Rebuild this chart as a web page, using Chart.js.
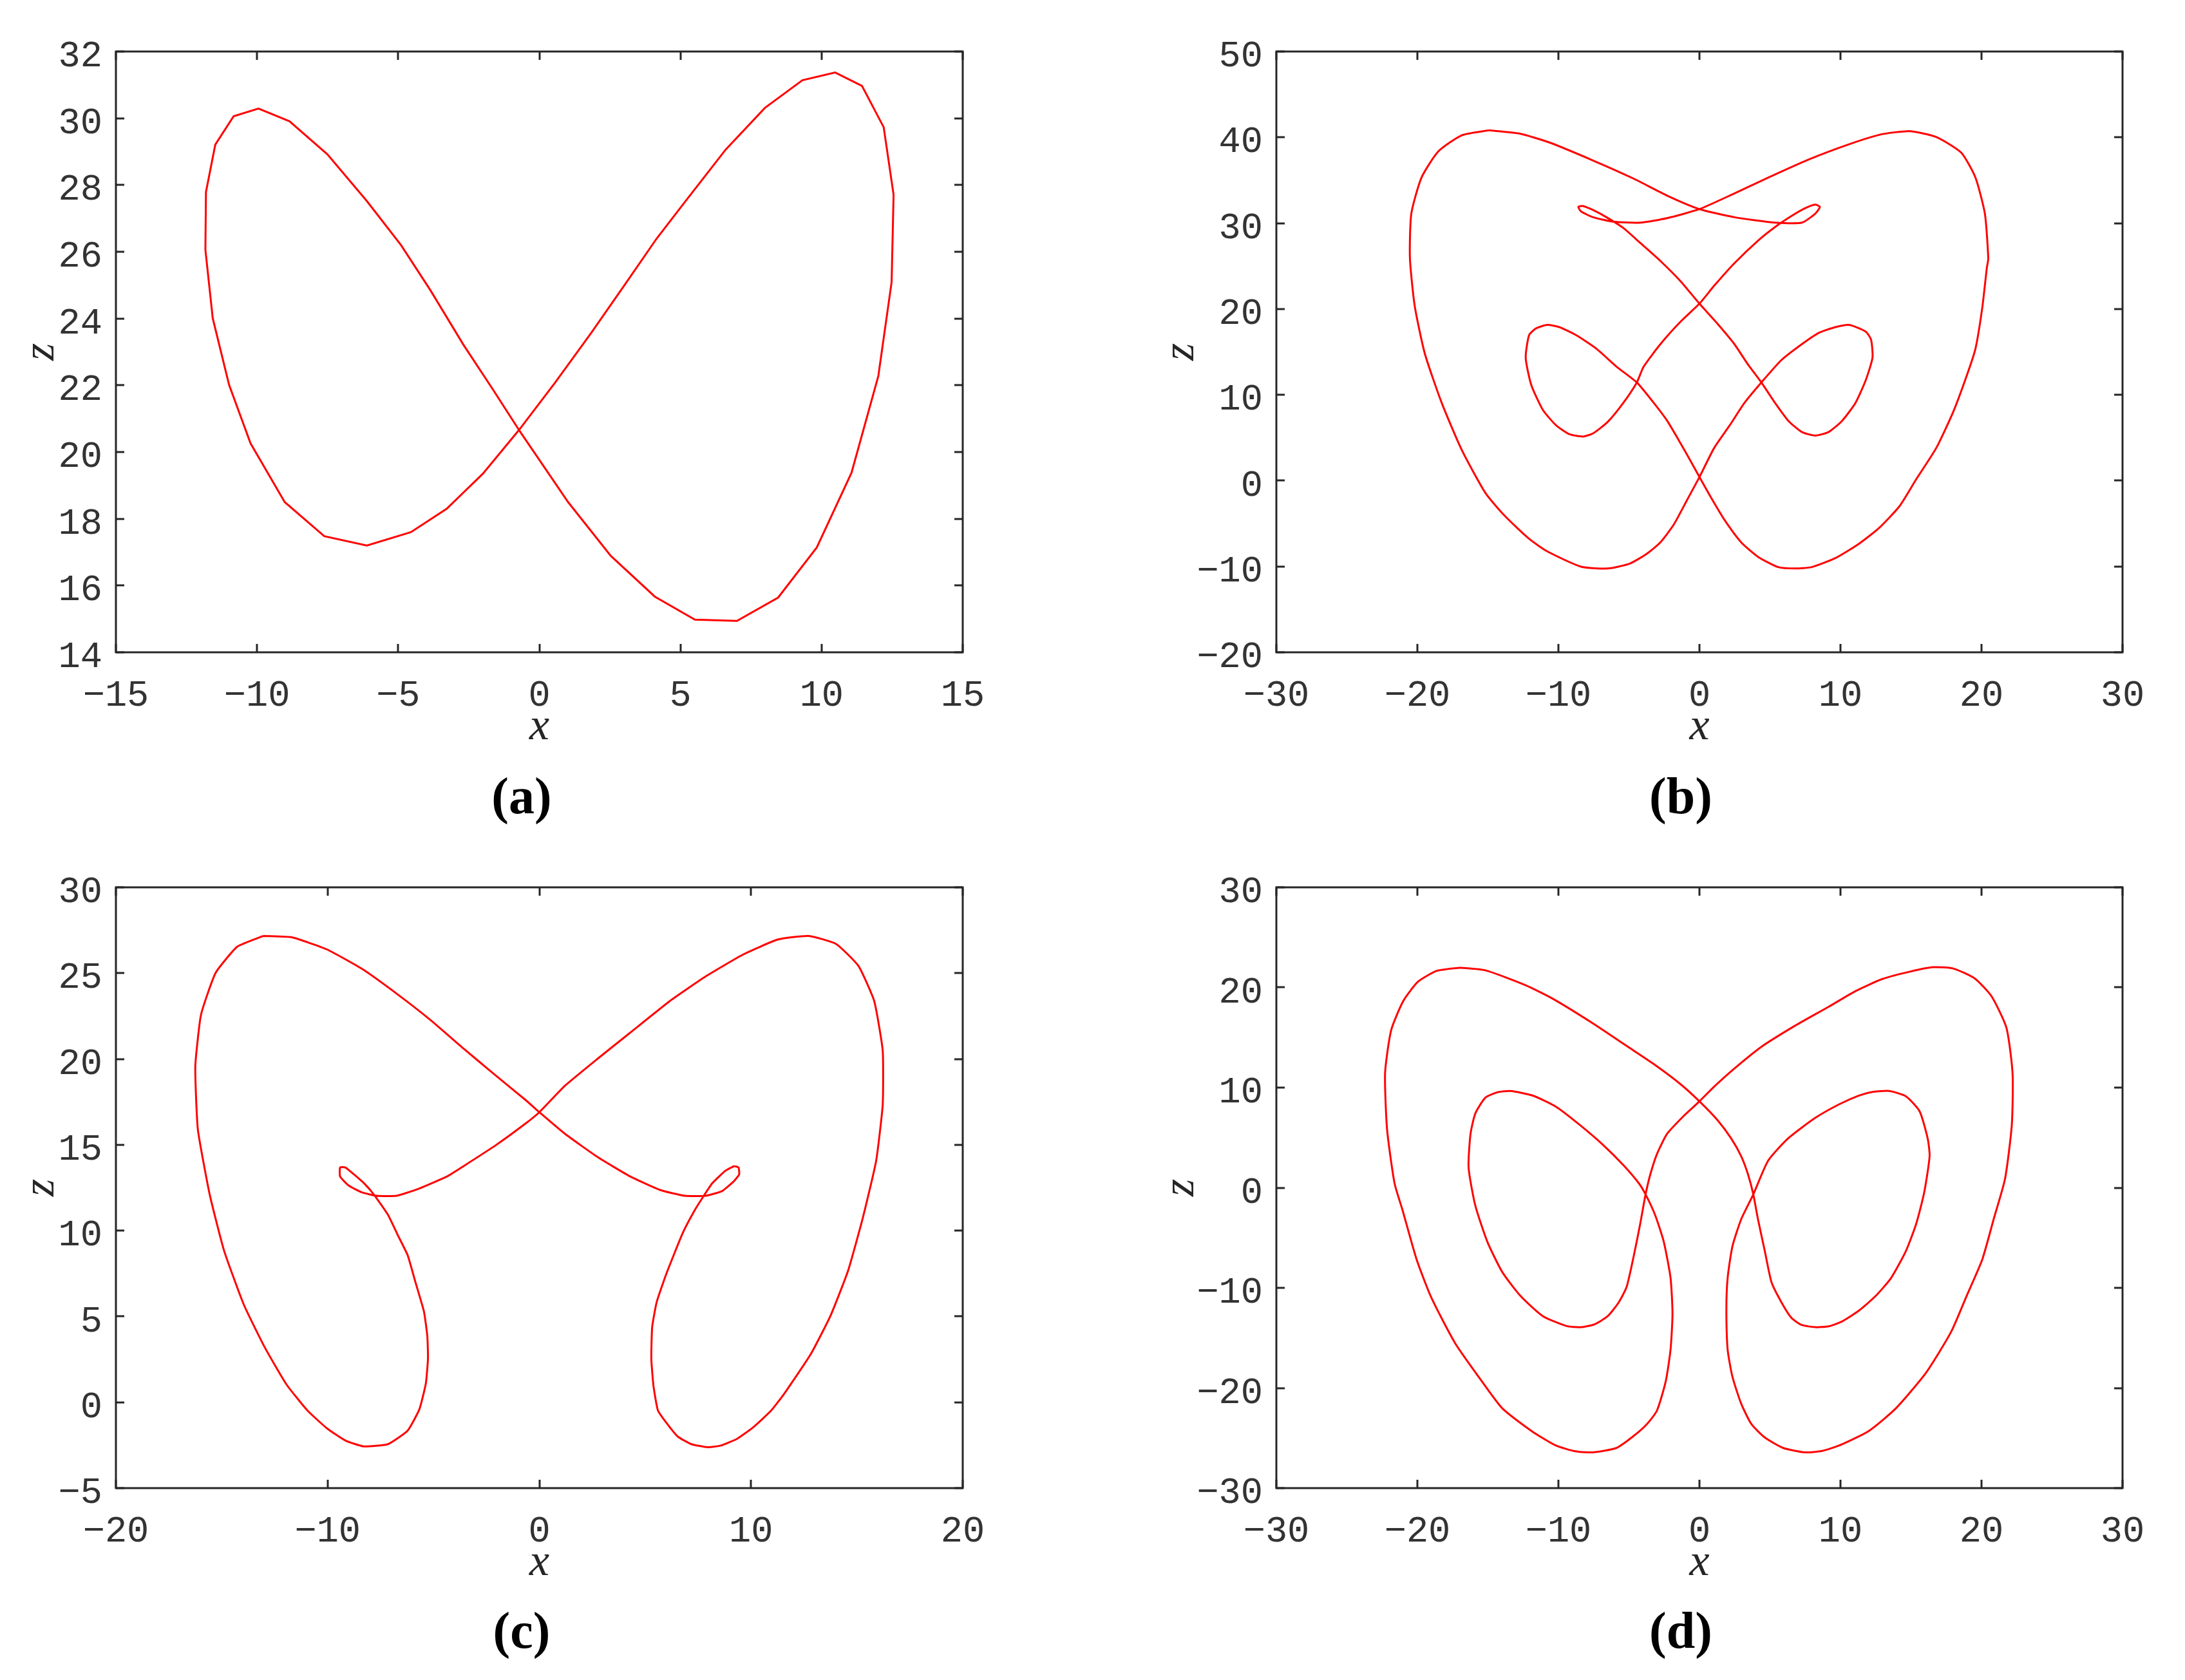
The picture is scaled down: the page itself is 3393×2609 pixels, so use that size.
<!DOCTYPE html>
<html lang="en">
<head>
<meta charset="UTF-8">
<title>x-z projections</title>
<script src="https://cdn.jsdelivr.net/npm/chart.js"></script>
<style>
    body { margin: 0; background: #fff; width: 3393px; height: 2609px; position: relative; overflow: hidden; }
    .panel { position: absolute; }
    .tag { position: absolute; font: bold 80px "Liberation Serif", serif; line-height: 80px; color: #000; transform: translateX(-50%); }
</style>
</head>
<body>

<div class="panel" style="left:0;top:0;width:1600px;height:1172px"><canvas id="chartA"></canvas></div>
<div class="panel" style="left:1696px;top:0;width:1697px;height:1172px"><canvas id="chartB"></canvas></div>
<div class="panel" style="left:0;top:1300px;width:1600px;height:1170px"><canvas id="chartC"></canvas></div>
<div class="panel" style="left:1696px;top:1300px;width:1697px;height:1170px"><canvas id="chartD"></canvas></div>

<div class="tag" style="left:810px;top:1196px">(a)</div>
<div class="tag" style="left:2610px;top:1196px">(b)</div>
<div class="tag" style="left:810px;top:2492px">(c)</div>
<div class="tag" style="left:2610px;top:2492px">(d)</div>

<script>
// axis ranges: [min, max, step]
const xRangeA = [-15, 15, 5];
const zRangeA = [14, 32, 2];
const xRangeB = [-30, 30, 10];
const zRangeB = [-20, 50, 10];
const xRangeC = [-20, 20, 10];
const zRangeC = [-5, 30, 5];
const xRangeD = [-30, 30, 10];
const zRangeD = [-30, 30, 10];

// trajectories, [x, z]
const curveA = [
    [-0.72, 20.66], [-1.65, 21.88], [-2.70, 23.23], [-3.86, 24.85], [-4.90, 26.20], [-6.11, 27.52],
    [-7.51, 28.92], [-8.85, 29.91], [-9.95, 30.29], [-10.83, 30.06], [-11.48, 29.21], [-11.81, 27.79],
    [-11.83, 26.06], [-11.57, 24.01], [-10.99, 22.01], [-10.23, 20.26], [-9.02, 18.50], [-7.62, 17.48],
    [-6.11, 17.20], [-4.55, 17.60], [-3.28, 18.30], [-2.00, 19.35], [-0.72, 20.66], [0.56, 22.08],
    [1.84, 23.57], [3.00, 24.98], [4.16, 26.40], [5.21, 27.55], [6.60, 29.06], [7.99, 30.31],
    [9.32, 31.14], [10.48, 31.37], [11.43, 30.97], [12.20, 29.73], [12.55, 27.71], [12.48, 25.09],
    [12.01, 22.28], [11.06, 19.38], [9.83, 17.14], [8.46, 15.64], [7.00, 14.94], [5.51, 14.98],
    [4.09, 15.67], [2.53, 16.89], [1.02, 18.50], [-0.02, 19.79], [-0.72, 20.66]
];

const curveB = [
    [-14.94, 40.82], [-12.79, 40.45], [-10.64, 39.40], [-7.54, 37.30], [-4.68, 35.20], [-2.29, 33.21],
    [0, 31.64], [2.48, 30.69], [5.35, 30.06], [7.26, 30.06], [8.21, 31.11], [8.54, 31.90],
    [8.21, 32.16], [7.49, 31.74], [6.54, 30.85], [5.35, 29.54], [4.15, 27.96], [2.48, 25.34],
    [1.05, 22.72], [0, 20.62], [-1.34, 18.52], [-2.77, 15.90], [-3.96, 13.27], [-4.44, 11.44],
    [-5.39, 9.08], [-6.49, 6.87], [-7.54, 5.51], [-8.26, 5.14], [-9.21, 5.40], [-10.17, 6.45],
    [-11.12, 8.29], [-11.93, 11.18], [-12.32, 14.32], [-12.08, 16.95], [-11.60, 17.73], [-10.79, 18.15],
    [-9.93, 17.89], [-8.74, 16.95], [-7.30, 15.37], [-5.87, 13.27], [-4.44, 11.44], [-3.25, 9.08],
    [-2.29, 6.98], [-1.34, 4.35], [-0.62, 2.26], [0, 0.42], [0.81, -1.94], [1.77, -4.56],
    [2.96, -7.19], [4.15, -8.87], [5.58, -10.07], [6.78, -10.23], [7.97, -10.07], [9.64, -9.02],
    [11.31, -7.35], [12.74, -5.51], [14.18, -2.99], [15.37, 0.16], [16.80, 3.83], [18.00, 8.03],
    [18.95, 12.22], [19.57, 15.37], [20.05, 20.09], [20.38, 24.82], [20.48, 25.87], [20.24, 31.11],
    [19.57, 35.31], [18.57, 38.20], [16.80, 40.03], [14.89, 40.71], [12.89, 40.35], [10.60, 39.19],
    [7.73, 37.41], [4.87, 35.31], [2.48, 33.47], [0, 31.64], [-2.29, 30.59], [-4.20, 30.06],
    [-6.11, 30.17], [-7.54, 30.69], [-8.40, 31.37], [-8.59, 31.90], [-8.26, 32.00], [-7.54, 31.53],
    [-6.59, 30.69], [-5.39, 29.43], [-4.20, 27.70], [-2.77, 25.60], [-1.34, 23.24], [0, 20.62],
    [1.29, 18.26], [2.48, 15.90], [3.44, 13.54], [4.39, 11.44], [5.35, 9.08], [6.30, 6.98],
    [7.26, 5.67], [8.21, 5.25], [9.16, 5.67], [10.12, 6.98], [11.07, 9.08], [11.79, 11.70],
    [12.27, 14.32], [12.17, 16.42], [11.79, 17.37], [10.60, 18.15], [9.64, 17.89], [8.45, 17.21],
    [7.26, 15.90], [5.82, 14.06], [4.39, 11.44], [3.20, 9.08], [2.15, 6.45], [1.05, 3.83],
    [0, 0.42], [-0.86, -2.20], [-1.81, -5.09], [-2.77, -7.19], [-3.72, -8.50], [-4.92, -9.65],
    [-6.49, -10.23], [-8.40, -10.02], [-10.79, -8.24], [-12.08, -6.77], [-13.84, -4.04], [-15.18, -1.42],
    [-16.85, 3.57], [-18.28, 9.08], [-19.48, 14.85], [-20.19, 20.36], [-20.53, 25.97], [-20.43, 31.11],
    [-19.71, 35.31], [-18.52, 38.35], [-16.85, 40.24], [-14.94, 40.82]
];

const curveC = [
    [-13.03, 27.17], [-11.70, 27.09], [-10.03, 26.38], [-8.39, 25.26], [-6.69, 23.76], [-5.14, 22.27],
    [-3.59, 20.62], [-2.20, 19.18], [-0.65, 17.61], [0, 16.90], [1.21, 15.64], [2.76, 14.28],
    [4.30, 13.15], [5.70, 12.37], [6.87, 12.03], [7.86, 12.03], [8.64, 12.31], [9.20, 12.89],
    [9.44, 13.28], [9.41, 13.68], [9.20, 13.75], [8.79, 13.49], [8.17, 12.76], [7.77, 12.03],
    [7.34, 11.19], [6.78, 9.88], [6.01, 7.52], [5.54, 5.82], [5.33, 4.38], [5.29, 2.54],
    [5.39, 0.97], [5.60, -0.47], [6.01, -1.21], [6.53, -1.99], [7.18, -2.44], [7.96, -2.62],
    [8.58, -2.52], [9.35, -2.12], [10.09, -1.47], [10.96, -0.47], [11.58, 0.52], [12.82, 2.80],
    [13.75, 5.03], [14.58, 7.65], [15.29, 10.79], [15.91, 14.07], [16.22, 17.34], [16.22, 20.49],
    [15.82, 23.37], [15.08, 25.41], [14.02, 26.70], [12.72, 27.17], [11.27, 26.96], [9.63, 26.09],
    [7.86, 24.81], [6.16, 23.37], [4.30, 21.54], [2.76, 20.02], [1.21, 18.44], [0, 16.90],
    [-0.65, 16.24], [-2.04, 14.99], [-3.59, 13.75], [-4.37, 13.15], [-5.70, 12.44], [-6.75, 12.03],
    [-7.68, 12.03], [-8.39, 12.23], [-9.01, 12.63], [-9.41, 13.15], [-9.41, 13.68], [-9.16, 13.68],
    [-8.76, 13.28], [-8.24, 12.71], [-7.77, 12.03], [-7.15, 10.92], [-6.69, 9.75], [-6.22, 8.57],
    [-5.85, 6.99], [-5.45, 5.29], [-5.29, 3.85], [-5.26, 2.54], [-5.36, 1.10], [-5.67, -0.42],
    [-6.22, -1.65], [-7.15, -2.44], [-8.30, -2.57], [-9.16, -2.23], [-10.03, -1.52], [-10.96, -0.47],
    [-11.95, 1.05], [-12.97, 3.20], [-13.96, 5.69], [-14.89, 8.83], [-15.57, 12.10], [-16.13, 15.90],
    [-16.25, 19.57], [-15.98, 22.58], [-15.29, 25.02], [-14.27, 26.54], [-13.03, 27.17]
];

const curveD = [
    [-16.99, 21.98], [-15.18, 21.71], [-12.32, 20.22], [-10.41, 18.88], [-7.54, 16.40], [-5.16, 14.16],
    [-3.25, 12.36], [-1.34, 10.34], [0, 8.63], [1.29, 6.74], [2.24, 4.94], [2.96, 3.15],
    [3.44, 1.35], [3.82, -0.67], [4.15, -3.15], [4.63, -6.29], [5.11, -9.44], [5.82, -11.46],
    [6.54, -13.03], [7.26, -13.71], [8.21, -13.93], [9.16, -13.84], [10.12, -13.35], [11.31, -12.27],
    [12.51, -10.79], [13.60, -8.99], [14.65, -6.29], [15.37, -3.60], [15.94, -0.45], [16.32, 3.15],
    [16.18, 4.94], [15.61, 7.64], [14.65, 9.12], [13.46, 9.66], [12.27, 9.57], [11.31, 9.21],
    [9.88, 8.31], [8.21, 6.97], [6.30, 4.94], [4.87, 2.70], [3.82, -0.67], [2.96, -3.15],
    [2.34, -5.84], [2.00, -8.99], [1.91, -12.13], [2.00, -16.18], [2.34, -18.88], [2.96, -21.57],
    [3.68, -23.60], [4.63, -24.94], [5.92, -25.98], [7.49, -26.43], [8.69, -26.29], [10.12, -25.62],
    [12.03, -24.27], [13.94, -22.02], [16.09, -18.43], [17.85, -14.38], [18.95, -10.79], [20.05, -7.19],
    [20.86, -3.15], [21.67, 0.90], [22.15, 6.29], [22.20, 11.46], [21.77, 15.96], [20.72, 19.10],
    [19.52, 20.90], [18.00, 21.89], [16.56, 22.02], [14.89, 21.57], [12.98, 20.85], [11.07, 19.64],
    [9.16, 18.07], [6.78, 16.18], [4.39, 14.07], [2.48, 11.91], [1.05, 10.11], [0, 8.63],
    [-1.10, 7.19], [-2.29, 5.39], [-3.01, 3.37], [-3.48, 1.35], [-3.82, -0.67], [-4.20, -3.60],
    [-4.58, -6.29], [-5.16, -9.89], [-5.73, -11.46], [-6.49, -12.81], [-7.40, -13.62], [-8.40, -13.93],
    [-9.45, -13.80], [-11.12, -12.81], [-12.70, -10.79], [-13.99, -8.40], [-15.04, -5.39], [-15.89, -1.80],
    [-16.37, 2.02], [-16.23, 5.39], [-15.89, 7.42], [-15.18, 8.99], [-14.32, 9.53], [-13.41, 9.66],
    [-11.84, 9.21], [-10.17, 8.09], [-8.50, 6.29], [-6.83, 4.27], [-5.39, 2.25], [-4.30, 0.45],
    [-3.82, -0.67], [-3.15, -2.70], [-2.53, -5.39], [-2.05, -8.99], [-1.91, -12.58], [-2.05, -16.18],
    [-2.39, -19.33], [-3.01, -22.25], [-3.72, -23.60], [-4.68, -24.81], [-5.87, -25.98], [-7.54, -26.43],
    [-8.74, -26.34], [-10.17, -25.75], [-11.93, -24.27], [-13.99, -22.02], [-15.66, -18.88], [-17.33, -15.51],
    [-19.00, -11.01], [-20.05, -7.19], [-21.05, -2.25], [-21.62, 0.45], [-22.15, 5.84], [-22.29, 11.46],
    [-21.86, 15.73], [-21.00, 18.65], [-19.95, 20.58], [-18.62, 21.66], [-16.99, 21.98]
];

const INK = '#262626';

// box round the plot with inward ticks on all four sides
const framePlugin = {
    id: 'frame',
    afterDraw(chart) {
        const { ctx, chartArea: a, scales: { x, y } } = chart;
        const len = 13;
        ctx.save();
        ctx.strokeStyle = INK;
        ctx.lineWidth = 3;
        ctx.beginPath();
        x.ticks.forEach(t => {
            const px = Math.round(x.getPixelForValue(t.value));
            ctx.moveTo(px, a.bottom); ctx.lineTo(px, a.bottom - len);
            ctx.moveTo(px, a.top); ctx.lineTo(px, a.top + len);
        });
        y.ticks.forEach(t => {
            const py = Math.round(y.getPixelForValue(t.value));
            ctx.moveTo(a.left, py); ctx.lineTo(a.left + len, py);
            ctx.moveTo(a.right, py); ctx.lineTo(a.right - len, py);
        });
        ctx.stroke();
        ctx.strokeRect(a.left, a.top, a.right - a.left, a.bottom - a.top);
        ctx.restore();
    }
};

const fmt = v => (v < 0 ? '\u2212' + Math.abs(v) : String(v));
const tickFont = { family: 'Liberation Mono', size: 57 };
const titleFont = { family: 'Liberation Serif', size: 70, style: 'italic' };

function drawPanel(id, curve, xr, zr, g) {
    new Chart(document.getElementById(id), {
        type: 'scatter',
        data: {
            datasets: [{
                data: curve.map(p => ({ x: p[0], y: p[1] })),
                showLine: true,
                borderColor: '#ff0000',
                borderWidth: 3,
                pointRadius: 0,
                tension: g.tension
            }]
        },
        options: {
            responsive: true,
            maintainAspectRatio: false,
            animation: false,
            events: [],
            layout: { padding: { top: g.top, right: g.right, left: 0, bottom: 0 } },
            plugins: { legend: { display: false }, tooltip: { enabled: false } },
            scales: {
                x: {
                    type: 'linear', min: xr[0], max: xr[1],
                    grid: { display: false }, border: { display: false },
                    ticks: { stepSize: xr[2], callback: fmt, font: tickFont, color: '#333', padding: 26, maxRotation: 0, autoSkip: false },
                    title: { display: true, text: 'x', font: titleFont, color: INK, padding: 0 },
                    afterFit: s => { s.height = 159; }
                },
                y: {
                    type: 'linear', min: zr[0], max: zr[1],
                    grid: { display: false }, border: { display: false },
                    ticks: { stepSize: zr[2], callback: fmt, font: tickFont, color: '#333', padding: 13, labelOffset: 8, autoSkip: false },
                    title: { display: true, text: 'z', font: titleFont, color: INK, padding: { top: g.zPad, bottom: 0 } },
                    afterFit: s => { s.width = g.yw; }
                }
            }
        },
        plugins: [framePlugin]
    });
}

drawPanel('chartA', curveA, xRangeA, zRangeA, { top: 80, right: 105, yw: 180, zPad: 23, tension: 0 });
drawPanel('chartB', curveB, xRangeB, zRangeB, { top: 80, right: 97, yw: 286, zPad: 97, tension: 0.2 });
drawPanel('chartC', curveC, xRangeC, zRangeC, { top: 78, right: 105, yw: 180, zPad: 23, tension: 0.15 });
drawPanel('chartD', curveD, xRangeD, zRangeD, { top: 78, right: 97, yw: 286, zPad: 97, tension: 0.2 });
</script>
</body>
</html>
